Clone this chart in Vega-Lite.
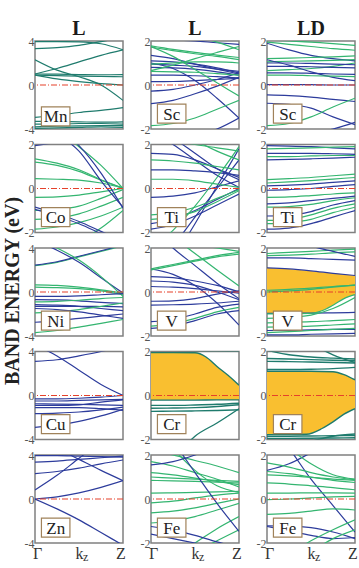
{
"$schema":"https://vega.github.io/schema/vega-lite/v6.json",
"padding":{"left":3,"top":18,"right":0,"bottom":0},
"bounds":"flush",
"columns":3,
"spacing":{"row":15.5,"column":28},
"title":{"text":"BAND ENERGY (eV)","orient":"left","anchor":"middle","fontSize":20,"fontWeight":"bold","font":"Liberation Serif","color":"#222","offset":0},
"config":{"view":{"stroke":"#808080","strokeWidth":1.5},"axis":{"domain":false,"ticks":false,"grid":false,"labelFont":"Liberation Serif","labelFontSize":12,"labelColor":"#555","labelPadding":1}},
"datasets":{
"Mn":[
{"b":1,"c":"t","k":0,"e":3.95},{"b":1,"c":"t","k":1,"e":3.95},{"b":1,"c":"t","k":2,"e":3.92},{"b":1,"c":"t","k":3,"e":3.75},{"b":1,"c":"t","k":4,"e":3.2},
{"b":2,"c":"t","k":0,"e":3.3},{"b":2,"c":"t","k":1,"e":3.4},{"b":2,"c":"t","k":2,"e":3.6},{"b":2,"c":"t","k":3,"e":3.95},{"b":2,"c":"t","k":4,"e":4.3},
{"b":3,"c":"t","k":0,"e":2.3},{"b":3,"c":"t","k":1,"e":1.35},{"b":3,"c":"t","k":2,"e":0.75},{"b":3,"c":"t","k":3,"e":0},{"b":3,"c":"t","k":4,"e":-1.4},
{"b":4,"c":"t","k":0,"e":1},{"b":4,"c":"t","k":1,"e":1.5},{"b":4,"c":"t","k":2,"e":2.1},{"b":4,"c":"t","k":3,"e":2.7},{"b":4,"c":"t","k":4,"e":3.2},
{"b":5,"c":"t","k":0,"e":1},{"b":5,"c":"t","k":1,"e":0.98},{"b":5,"c":"t","k":2,"e":0.95},{"b":5,"c":"t","k":3,"e":0.93},{"b":5,"c":"t","k":4,"e":0.95},
{"b":6,"c":"t","k":0,"e":0.9},{"b":6,"c":"t","k":1,"e":0.85},{"b":6,"c":"t","k":2,"e":0.8},{"b":6,"c":"t","k":3,"e":0.78},{"b":6,"c":"t","k":4,"e":0.75},
{"b":7,"c":"t","k":0,"e":0.9},{"b":7,"c":"t","k":1,"e":0.55},{"b":7,"c":"t","k":2,"e":0.3},{"b":7,"c":"t","k":3,"e":0.12},{"b":7,"c":"t","k":4,"e":0},
{"b":8,"c":"t","k":0,"e":-2.95},{"b":8,"c":"t","k":1,"e":-2.75},{"b":8,"c":"t","k":2,"e":-2.5},{"b":8,"c":"t","k":3,"e":-2.3},{"b":8,"c":"t","k":4,"e":-2.05},
{"b":9,"c":"t","k":0,"e":-3.3},{"b":9,"c":"t","k":1,"e":-3.32},{"b":9,"c":"t","k":2,"e":-3.35},{"b":9,"c":"t","k":3,"e":-3.38},{"b":9,"c":"t","k":4,"e":-3.35},
{"b":10,"c":"t","k":0,"e":-3.55},{"b":10,"c":"t","k":1,"e":-3.55},{"b":10,"c":"t","k":2,"e":-3.5},{"b":10,"c":"t","k":3,"e":-3.5},{"b":10,"c":"t","k":4,"e":-3.55},
{"b":11,"c":"t","k":0,"e":-3.8},{"b":11,"c":"t","k":1,"e":-3.75},{"b":11,"c":"t","k":2,"e":-3.72},{"b":11,"c":"t","k":3,"e":-3.7},{"b":11,"c":"t","k":4,"e":-3.7},
{"b":12,"c":"t","k":0,"e":-3.95},{"b":12,"c":"t","k":1,"e":-3.9},{"b":12,"c":"t","k":2,"e":-3.85},{"b":12,"c":"t","k":3,"e":-3.8},{"b":12,"c":"t","k":4,"e":-3.85}
],
"ScL":[
{"b":1,"c":"b","k":0,"e":1.35},{"b":1,"c":"b","k":1,"e":1.2},{"b":1,"c":"b","k":2,"e":0.95},{"b":1,"c":"b","k":3,"e":0.72},{"b":1,"c":"b","k":4,"e":0.5},
{"b":2,"c":"b","k":0,"e":1.1},{"b":2,"c":"b","k":1,"e":1.05},{"b":2,"c":"b","k":2,"e":0.95},{"b":2,"c":"b","k":3,"e":0.78},{"b":2,"c":"b","k":4,"e":0.55},
{"b":3,"c":"b","k":0,"e":0.95},{"b":3,"c":"b","k":1,"e":0.9},{"b":3,"c":"b","k":2,"e":0.85},{"b":3,"c":"b","k":3,"e":0.72},{"b":3,"c":"b","k":4,"e":0.62},
{"b":4,"c":"b","k":0,"e":0.8},{"b":4,"c":"b","k":1,"e":0.78},{"b":4,"c":"b","k":2,"e":0.72},{"b":4,"c":"b","k":3,"e":0.6},{"b":4,"c":"b","k":4,"e":0.45},
{"b":5,"c":"b","k":0,"e":0.45},{"b":5,"c":"b","k":1,"e":0.45},{"b":5,"c":"b","k":2,"e":0.42},{"b":5,"c":"b","k":3,"e":0.38},{"b":5,"c":"b","k":4,"e":0.32},
{"b":6,"c":"b","k":0,"e":0.15},{"b":6,"c":"b","k":1,"e":0.16},{"b":6,"c":"b","k":2,"e":0.2},{"b":6,"c":"b","k":3,"e":0.25},{"b":6,"c":"b","k":4,"e":0.3},
{"b":7,"c":"b","k":0,"e":-0.28},{"b":7,"c":"b","k":1,"e":-0.2},{"b":7,"c":"b","k":2,"e":0},{"b":7,"c":"b","k":3,"e":0.25},{"b":7,"c":"b","k":4,"e":0.55},
{"b":8,"c":"b","k":0,"e":-0.85},{"b":8,"c":"b","k":1,"e":-0.7},{"b":8,"c":"b","k":2,"e":-0.4},{"b":8,"c":"b","k":3,"e":-0.05},{"b":8,"c":"b","k":4,"e":0.35},
{"b":9,"c":"b","k":0,"e":1},{"b":9,"c":"b","k":1,"e":0.75},{"b":9,"c":"b","k":2,"e":0.2},{"b":9,"c":"b","k":3,"e":-0.6},{"b":9,"c":"b","k":4,"e":-1.5},
{"b":10,"c":"b","k":0,"e":-2.6},{"b":10,"c":"b","k":1,"e":-2.45},{"b":10,"c":"b","k":2,"e":-2.3},{"b":10,"c":"b","k":3,"e":-2},{"b":10,"c":"b","k":4,"e":-1.5},
{"b":11,"c":"b","k":0,"e":2.1},{"b":11,"c":"b","k":1,"e":2.05},{"b":11,"c":"b","k":2,"e":2},{"b":11,"c":"b","k":3,"e":1.92},{"b":11,"c":"b","k":4,"e":1.85},
{"b":12,"c":"g","k":0,"e":1.78},{"b":12,"c":"g","k":1,"e":1.62},{"b":12,"c":"g","k":2,"e":1.48},{"b":12,"c":"g","k":3,"e":1.36},{"b":12,"c":"g","k":4,"e":1.25},
{"b":13,"c":"g","k":0,"e":1.72},{"b":13,"c":"g","k":1,"e":1.56},{"b":13,"c":"g","k":2,"e":1.42},{"b":13,"c":"g","k":3,"e":1.3},{"b":13,"c":"g","k":4,"e":1.15},
{"b":14,"c":"g","k":0,"e":2.6},{"b":14,"c":"g","k":1,"e":2.4},{"b":14,"c":"g","k":2,"e":2.2},{"b":14,"c":"g","k":3,"e":1.95},{"b":14,"c":"g","k":4,"e":1.6},
{"b":15,"c":"g","k":0,"e":0.65},{"b":15,"c":"g","k":1,"e":0.9},{"b":15,"c":"g","k":2,"e":1.2},{"b":15,"c":"g","k":3,"e":1.48},{"b":15,"c":"g","k":4,"e":1.75},
{"b":16,"c":"g","k":0,"e":0.95},{"b":16,"c":"g","k":1,"e":1},{"b":16,"c":"g","k":2,"e":1.05},{"b":16,"c":"g","k":3,"e":1.05},{"b":16,"c":"g","k":4,"e":1},
{"b":17,"c":"g","k":0,"e":1.75},{"b":17,"c":"g","k":1,"e":1.3},{"b":17,"c":"g","k":2,"e":0.7},{"b":17,"c":"g","k":3,"e":0.1},{"b":17,"c":"g","k":4,"e":-0.5},
{"b":18,"c":"g","k":0,"e":-1.85},{"b":18,"c":"g","k":1,"e":-1.75},{"b":18,"c":"g","k":2,"e":-1.5},{"b":18,"c":"g","k":3,"e":-1.1},{"b":18,"c":"g","k":4,"e":-0.7},
{"b":19,"c":"g","k":0,"e":0.62},{"b":19,"c":"g","k":1,"e":0.6},{"b":19,"c":"g","k":2,"e":0.58},{"b":19,"c":"g","k":3,"e":0.52},{"b":19,"c":"g","k":4,"e":0.45}
],
"ScD":[
{"b":1,"c":"g","k":0,"e":1.95},{"b":1,"c":"g","k":1,"e":1.85},{"b":1,"c":"g","k":2,"e":1.75},{"b":1,"c":"g","k":3,"e":1.65},{"b":1,"c":"g","k":4,"e":1.58},
{"b":2,"c":"g","k":0,"e":2.05},{"b":2,"c":"g","k":1,"e":2},{"b":2,"c":"g","k":2,"e":1.95},{"b":2,"c":"g","k":3,"e":1.88},{"b":2,"c":"g","k":4,"e":1.8},
{"b":3,"c":"b","k":0,"e":1.9},{"b":3,"c":"b","k":1,"e":1.6},{"b":3,"c":"b","k":2,"e":1.35},{"b":3,"c":"b","k":3,"e":1.2},{"b":3,"c":"b","k":4,"e":1.1},
{"b":4,"c":"g","k":0,"e":1.2},{"b":4,"c":"g","k":1,"e":1.22},{"b":4,"c":"g","k":2,"e":1.25},{"b":4,"c":"g","k":3,"e":1.28},{"b":4,"c":"g","k":4,"e":1.32},
{"b":5,"c":"g","k":0,"e":1.05},{"b":5,"c":"g","k":1,"e":1.08},{"b":5,"c":"g","k":2,"e":1.1},{"b":5,"c":"g","k":3,"e":1.12},{"b":5,"c":"g","k":4,"e":1.15},
{"b":6,"c":"g","k":0,"e":0.65},{"b":6,"c":"g","k":1,"e":0.7},{"b":6,"c":"g","k":2,"e":0.75},{"b":6,"c":"g","k":3,"e":0.85},{"b":6,"c":"g","k":4,"e":1},
{"b":7,"c":"b","k":0,"e":1},{"b":7,"c":"b","k":1,"e":1},{"b":7,"c":"b","k":2,"e":0.98},{"b":7,"c":"b","k":3,"e":0.95},{"b":7,"c":"b","k":4,"e":0.92},
{"b":8,"c":"b","k":0,"e":0.85},{"b":8,"c":"b","k":1,"e":0.85},{"b":8,"c":"b","k":2,"e":0.83},{"b":8,"c":"b","k":3,"e":0.8},{"b":8,"c":"b","k":4,"e":0.78},
{"b":9,"c":"b","k":0,"e":1.15},{"b":9,"c":"b","k":1,"e":0.9},{"b":9,"c":"b","k":2,"e":0.6},{"b":9,"c":"b","k":3,"e":0.35},{"b":9,"c":"b","k":4,"e":0.2},
{"b":10,"c":"b","k":0,"e":0.55},{"b":10,"c":"b","k":1,"e":0.55},{"b":10,"c":"b","k":2,"e":0.53},{"b":10,"c":"b","k":3,"e":0.5},{"b":10,"c":"b","k":4,"e":0.48},
{"b":11,"c":"g","k":0,"e":0.45},{"b":11,"c":"g","k":1,"e":0.45},{"b":11,"c":"g","k":2,"e":0.42},{"b":11,"c":"g","k":3,"e":0.4},{"b":11,"c":"g","k":4,"e":0.38},
{"b":12,"c":"b","k":0,"e":0.02},{"b":12,"c":"b","k":1,"e":0.02},{"b":12,"c":"b","k":2,"e":0.02},{"b":12,"c":"b","k":3,"e":0},{"b":12,"c":"b","k":4,"e":0},
{"b":13,"c":"b","k":0,"e":-0.45},{"b":13,"c":"b","k":1,"e":-0.48},{"b":13,"c":"b","k":2,"e":-0.55},{"b":13,"c":"b","k":3,"e":-0.65},{"b":13,"c":"b","k":4,"e":-0.75},
{"b":14,"c":"b","k":0,"e":-0.83},{"b":14,"c":"b","k":1,"e":-0.88},{"b":14,"c":"b","k":2,"e":-1.05},{"b":14,"c":"b","k":3,"e":-1.45},{"b":14,"c":"b","k":4,"e":-1.8},
{"b":15,"c":"g","k":0,"e":-1.85},{"b":15,"c":"g","k":1,"e":-1.75},{"b":15,"c":"g","k":2,"e":-1.45},{"b":15,"c":"g","k":3,"e":-1},{"b":15,"c":"g","k":4,"e":-0.6},
{"b":16,"c":"b","k":0,"e":-2.4},{"b":16,"c":"b","k":1,"e":-2.3},{"b":16,"c":"b","k":2,"e":-2.2},{"b":16,"c":"b","k":3,"e":-2},{"b":16,"c":"b","k":4,"e":-1.7}
],
"Co":[
{"b":1,"c":"g","k":0,"e":1.35},{"b":1,"c":"g","k":1,"e":1.15},{"b":1,"c":"g","k":2,"e":0.85},{"b":1,"c":"g","k":3,"e":0.4},{"b":1,"c":"g","k":4,"e":0},
{"b":2,"c":"g","k":0,"e":1.2},{"b":2,"c":"g","k":1,"e":1.05},{"b":2,"c":"g","k":2,"e":0.78},{"b":2,"c":"g","k":3,"e":0.38},{"b":2,"c":"g","k":4,"e":0.02},
{"b":3,"c":"g","k":0,"e":0.45},{"b":3,"c":"g","k":1,"e":0.42},{"b":3,"c":"g","k":2,"e":0.38},{"b":3,"c":"g","k":3,"e":0.25},{"b":3,"c":"g","k":4,"e":0.02},
{"b":4,"c":"g","k":0,"e":-0.4},{"b":4,"c":"g","k":1,"e":-0.38},{"b":4,"c":"g","k":2,"e":-0.3},{"b":4,"c":"g","k":3,"e":-0.15},{"b":4,"c":"g","k":4,"e":0},
{"b":5,"c":"g","k":0,"e":-1},{"b":5,"c":"g","k":1,"e":-0.95},{"b":5,"c":"g","k":2,"e":-0.8},{"b":5,"c":"g","k":3,"e":-0.45},{"b":5,"c":"g","k":4,"e":-0.05},
{"b":6,"c":"g","k":0,"e":-1.4},{"b":6,"c":"g","k":1,"e":-1.35},{"b":6,"c":"g","k":2,"e":-1.15},{"b":6,"c":"g","k":3,"e":-0.8},{"b":6,"c":"g","k":4,"e":-0.4},
{"b":7,"c":"g","k":0,"e":-1.85},{"b":7,"c":"g","k":1,"e":-1.75},{"b":7,"c":"g","k":2,"e":-1.55},{"b":7,"c":"g","k":3,"e":-1.25},{"b":7,"c":"g","k":4,"e":-0.85},
{"b":8,"c":"g","k":0,"e":3.6},{"b":8,"c":"g","k":1,"e":2.7},{"b":8,"c":"g","k":2,"e":1.9},{"b":8,"c":"g","k":3,"e":1.05},{"b":8,"c":"g","k":4,"e":0},
{"b":9,"c":"g","k":0,"e":-3.2},{"b":9,"c":"g","k":1,"e":-2.9},{"b":9,"c":"g","k":2,"e":-2.4},{"b":9,"c":"g","k":3,"e":-1.8},{"b":9,"c":"g","k":4,"e":-1},
{"b":10,"c":"b","k":0,"e":1.95},{"b":10,"c":"b","k":1,"e":2.1},{"b":10,"c":"b","k":2,"e":2.3},{"b":10,"c":"b","k":3,"e":2.5},{"b":10,"c":"b","k":4,"e":2.7},
{"b":11,"c":"b","k":0,"e":3.6},{"b":11,"c":"b","k":1,"e":2.8},{"b":11,"c":"b","k":2,"e":1.95},{"b":11,"c":"b","k":3,"e":0.7},{"b":11,"c":"b","k":4,"e":-0.9},
{"b":12,"c":"b","k":0,"e":3.3},{"b":12,"c":"b","k":1,"e":2.5},{"b":12,"c":"b","k":2,"e":1.7},{"b":12,"c":"b","k":3,"e":0.35},{"b":12,"c":"b","k":4,"e":-0.85},
{"b":13,"c":"b","k":0,"e":-0.85},{"b":13,"c":"b","k":1,"e":-1.15},{"b":13,"c":"b","k":2,"e":-1.5},{"b":13,"c":"b","k":3,"e":-1.95},{"b":13,"c":"b","k":4,"e":-2.4},
{"b":14,"c":"b","k":0,"e":-0.95},{"b":14,"c":"b","k":1,"e":-1.25},{"b":14,"c":"b","k":2,"e":-1.6},{"b":14,"c":"b","k":3,"e":-2.05},{"b":14,"c":"b","k":4,"e":-2.5}
],
"TiL":[
{"b":1,"c":"b","k":0,"e":1.6},{"b":1,"c":"b","k":1,"e":1.55},{"b":1,"c":"b","k":2,"e":1.3},{"b":1,"c":"b","k":3,"e":0.9},{"b":1,"c":"b","k":4,"e":0.5},
{"b":2,"c":"b","k":0,"e":0.85},{"b":2,"c":"b","k":1,"e":0.85},{"b":2,"c":"b","k":2,"e":0.8},{"b":2,"c":"b","k":3,"e":0.72},{"b":2,"c":"b","k":4,"e":0.6},
{"b":3,"c":"b","k":0,"e":-0.4},{"b":3,"c":"b","k":1,"e":-0.35},{"b":3,"c":"b","k":2,"e":-0.2},{"b":3,"c":"b","k":3,"e":0.08},{"b":3,"c":"b","k":4,"e":0.35},
{"b":4,"c":"b","k":0,"e":-1.6},{"b":4,"c":"b","k":1,"e":-1.4},{"b":4,"c":"b","k":2,"e":-1},{"b":4,"c":"b","k":3,"e":-0.5},{"b":4,"c":"b","k":4,"e":0},
{"b":5,"c":"b","k":0,"e":-1.85},{"b":5,"c":"b","k":1,"e":-1.65},{"b":5,"c":"b","k":2,"e":-1.25},{"b":5,"c":"b","k":3,"e":-0.75},{"b":5,"c":"b","k":4,"e":-0.25},
{"b":6,"c":"b","k":0,"e":2.6},{"b":6,"c":"b","k":1,"e":2},{"b":6,"c":"b","k":2,"e":1.3},{"b":6,"c":"b","k":3,"e":0.6},{"b":6,"c":"b","k":4,"e":0.05},
{"b":7,"c":"b","k":0,"e":2.9},{"b":7,"c":"b","k":1,"e":2.3},{"b":7,"c":"b","k":2,"e":1.6},{"b":7,"c":"b","k":3,"e":0.9},{"b":7,"c":"b","k":4,"e":0.4},
{"b":8,"c":"b","k":0,"e":-4.5},{"b":8,"c":"b","k":1,"e":-3.2},{"b":8,"c":"b","k":2,"e":-1.6},{"b":8,"c":"b","k":3,"e":0.1},{"b":8,"c":"b","k":4,"e":1.8},
{"b":9,"c":"b","k":0,"e":-3.6},{"b":9,"c":"b","k":1,"e":-2.6},{"b":9,"c":"b","k":2,"e":-1.3},{"b":9,"c":"b","k":3,"e":0},{"b":9,"c":"b","k":4,"e":1.3},
{"b":10,"c":"g","k":0,"e":1.3},{"b":10,"c":"g","k":1,"e":1.25},{"b":10,"c":"g","k":2,"e":1.15},{"b":10,"c":"g","k":3,"e":1},{"b":10,"c":"g","k":4,"e":0.85},
{"b":11,"c":"g","k":0,"e":0.42},{"b":11,"c":"g","k":1,"e":0.42},{"b":11,"c":"g","k":2,"e":0.35},{"b":11,"c":"g","k":3,"e":0.2},{"b":11,"c":"g","k":4,"e":0.05},
{"b":12,"c":"g","k":0,"e":-1.2},{"b":12,"c":"g","k":1,"e":-1.1},{"b":12,"c":"g","k":2,"e":-0.85},{"b":12,"c":"g","k":3,"e":-0.45},{"b":12,"c":"g","k":4,"e":-0.05},
{"b":13,"c":"g","k":0,"e":-1.4},{"b":13,"c":"g","k":1,"e":-1.3},{"b":13,"c":"g","k":2,"e":-1.05},{"b":13,"c":"g","k":3,"e":-0.6},{"b":13,"c":"g","k":4,"e":-0.1},
{"b":14,"c":"g","k":0,"e":3.5},{"b":14,"c":"g","k":1,"e":2.9},{"b":14,"c":"g","k":2,"e":2.2},{"b":14,"c":"g","k":3,"e":1.7},{"b":14,"c":"g","k":4,"e":1.3},
{"b":15,"c":"g","k":0,"e":-2.8},{"b":15,"c":"g","k":1,"e":-1.9},{"b":15,"c":"g","k":2,"e":-0.8},{"b":15,"c":"g","k":3,"e":0.5},{"b":15,"c":"g","k":4,"e":1.9},
{"b":16,"c":"g","k":0,"e":2.3},{"b":16,"c":"g","k":1,"e":2.2},{"b":16,"c":"g","k":2,"e":2},{"b":16,"c":"g","k":3,"e":1.85},{"b":16,"c":"g","k":4,"e":1.7}
],
"TiD":[
{"b":1,"c":"b","k":0,"e":1.95},{"b":1,"c":"b","k":1,"e":1.93},{"b":1,"c":"b","k":2,"e":1.9},{"b":1,"c":"b","k":3,"e":1.85},{"b":1,"c":"b","k":4,"e":1.8},
{"b":2,"c":"g","k":0,"e":1.8},{"b":2,"c":"g","k":1,"e":1.82},{"b":2,"c":"g","k":2,"e":1.85},{"b":2,"c":"g","k":3,"e":1.88},{"b":2,"c":"g","k":4,"e":1.9},
{"b":3,"c":"b","k":0,"e":1.6},{"b":3,"c":"b","k":1,"e":1.6},{"b":3,"c":"b","k":2,"e":1.6},{"b":3,"c":"b","k":3,"e":1.58},{"b":3,"c":"b","k":4,"e":1.55},
{"b":4,"c":"g","k":0,"e":1.45},{"b":4,"c":"g","k":1,"e":1.45},{"b":4,"c":"g","k":2,"e":1.48},{"b":4,"c":"g","k":3,"e":1.5},{"b":4,"c":"g","k":4,"e":1.5},
{"b":5,"c":"b","k":0,"e":1.3},{"b":5,"c":"b","k":1,"e":1.32},{"b":5,"c":"b","k":2,"e":1.35},{"b":5,"c":"b","k":3,"e":1.38},{"b":5,"c":"b","k":4,"e":1.42},
{"b":6,"c":"g","k":0,"e":0.4},{"b":6,"c":"g","k":1,"e":0.45},{"b":6,"c":"g","k":2,"e":0.5},{"b":6,"c":"g","k":3,"e":0.58},{"b":6,"c":"g","k":4,"e":0.65},
{"b":7,"c":"g","k":0,"e":0.25},{"b":7,"c":"g","k":1,"e":0.3},{"b":7,"c":"g","k":2,"e":0.36},{"b":7,"c":"g","k":3,"e":0.43},{"b":7,"c":"g","k":4,"e":0.5},
{"b":8,"c":"b","k":0,"e":0.12},{"b":8,"c":"b","k":1,"e":0.15},{"b":8,"c":"b","k":2,"e":0.2},{"b":8,"c":"b","k":3,"e":0.28},{"b":8,"c":"b","k":4,"e":0.35},
{"b":9,"c":"b","k":0,"e":-0.08},{"b":9,"c":"b","k":1,"e":-0.05},{"b":9,"c":"b","k":2,"e":0},{"b":9,"c":"b","k":3,"e":0.1},{"b":9,"c":"b","k":4,"e":0.18},
{"b":10,"c":"g","k":0,"e":-0.4},{"b":10,"c":"g","k":1,"e":-0.38},{"b":10,"c":"g","k":2,"e":-0.32},{"b":10,"c":"g","k":3,"e":-0.25},{"b":10,"c":"g","k":4,"e":-0.2},
{"b":11,"c":"b","k":0,"e":-0.7},{"b":11,"c":"b","k":1,"e":-0.65},{"b":11,"c":"b","k":2,"e":-0.55},{"b":11,"c":"b","k":3,"e":-0.45},{"b":11,"c":"b","k":4,"e":-0.35},
{"b":12,"c":"g","k":0,"e":-0.85},{"b":12,"c":"g","k":1,"e":-0.82},{"b":12,"c":"g","k":2,"e":-0.72},{"b":12,"c":"g","k":3,"e":-0.55},{"b":12,"c":"g","k":4,"e":-0.42},
{"b":13,"c":"b","k":0,"e":-1.25},{"b":13,"c":"b","k":1,"e":-1.22},{"b":13,"c":"b","k":2,"e":-1.05},{"b":13,"c":"b","k":3,"e":-0.75},{"b":13,"c":"b","k":4,"e":-0.55},
{"b":14,"c":"g","k":0,"e":-1.45},{"b":14,"c":"g","k":1,"e":-1.4},{"b":14,"c":"g","k":2,"e":-1.2},{"b":14,"c":"g","k":3,"e":-0.9},{"b":14,"c":"g","k":4,"e":-0.7},
{"b":15,"c":"g","k":0,"e":-1.6},{"b":15,"c":"g","k":1,"e":-1.55},{"b":15,"c":"g","k":2,"e":-1.4},{"b":15,"c":"g","k":3,"e":-1.1},{"b":15,"c":"g","k":4,"e":-0.85},
{"b":16,"c":"b","k":0,"e":-1.85},{"b":16,"c":"b","k":1,"e":-1.8},{"b":16,"c":"b","k":2,"e":-1.6},{"b":16,"c":"b","k":3,"e":-1.3},{"b":16,"c":"b","k":4,"e":-1}
],
"Ni":[
{"b":1,"c":"g","k":0,"e":2.4},{"b":1,"c":"g","k":1,"e":2.7},{"b":1,"c":"g","k":2,"e":3.2},{"b":1,"c":"g","k":3,"e":3.7},{"b":1,"c":"g","k":4,"e":4.2},
{"b":2,"c":"b","k":0,"e":2.45},{"b":2,"c":"b","k":1,"e":2.75},{"b":2,"c":"b","k":2,"e":3.25},{"b":2,"c":"b","k":3,"e":3.75},{"b":2,"c":"b","k":4,"e":4.25},
{"b":3,"c":"b","k":0,"e":4.7},{"b":3,"c":"b","k":1,"e":3.8},{"b":3,"c":"b","k":2,"e":2.7},{"b":3,"c":"b","k":3,"e":1.3},{"b":3,"c":"b","k":4,"e":-0.1},
{"b":4,"c":"g","k":0,"e":4.9},{"b":4,"c":"g","k":1,"e":4},{"b":4,"c":"g","k":2,"e":2.9},{"b":4,"c":"g","k":3,"e":1.4},{"b":4,"c":"g","k":4,"e":-0.4},
{"b":5,"c":"g","k":0,"e":0.65},{"b":5,"c":"g","k":1,"e":0.6},{"b":5,"c":"g","k":2,"e":0.45},{"b":5,"c":"g","k":3,"e":0.2},{"b":5,"c":"g","k":4,"e":-0.1},
{"b":6,"c":"g","k":0,"e":0.45},{"b":6,"c":"g","k":1,"e":0.4},{"b":6,"c":"g","k":2,"e":0.3},{"b":6,"c":"g","k":3,"e":0.1},{"b":6,"c":"g","k":4,"e":-0.25},
{"b":7,"c":"b","k":0,"e":-0.4},{"b":7,"c":"b","k":1,"e":-0.4},{"b":7,"c":"b","k":2,"e":-0.35},{"b":7,"c":"b","k":3,"e":-0.25},{"b":7,"c":"b","k":4,"e":-0.15},
{"b":8,"c":"b","k":0,"e":-0.7},{"b":8,"c":"b","k":1,"e":-0.72},{"b":8,"c":"b","k":2,"e":-0.8},{"b":8,"c":"b","k":3,"e":-0.95},{"b":8,"c":"b","k":4,"e":-1.05},
{"b":9,"c":"g","k":0,"e":-0.9},{"b":9,"c":"g","k":1,"e":-0.85},{"b":9,"c":"g","k":2,"e":-0.75},{"b":9,"c":"g","k":3,"e":-0.6},{"b":9,"c":"g","k":4,"e":-0.5},
{"b":10,"c":"b","k":0,"e":-1.3},{"b":10,"c":"b","k":1,"e":-1.3},{"b":10,"c":"b","k":2,"e":-1.3},{"b":10,"c":"b","k":3,"e":-1.32},{"b":10,"c":"b","k":4,"e":-1.35},
{"b":11,"c":"b","k":0,"e":-1.15},{"b":11,"c":"b","k":1,"e":-1.2},{"b":11,"c":"b","k":2,"e":-1.3},{"b":11,"c":"b","k":3,"e":-1.5},{"b":11,"c":"b","k":4,"e":-1.7},
{"b":12,"c":"g","k":0,"e":-1.9},{"b":12,"c":"g","k":1,"e":-1.8},{"b":12,"c":"g","k":2,"e":-1.6},{"b":12,"c":"g","k":3,"e":-1.3},{"b":12,"c":"g","k":4,"e":-1},
{"b":13,"c":"b","k":0,"e":-2.75},{"b":13,"c":"b","k":1,"e":-2.6},{"b":13,"c":"b","k":2,"e":-2.4},{"b":13,"c":"b","k":3,"e":-2.2},{"b":13,"c":"b","k":4,"e":-2},
{"b":14,"c":"g","k":0,"e":-3.7},{"b":14,"c":"g","k":1,"e":-3.5},{"b":14,"c":"g","k":2,"e":-3.2},{"b":14,"c":"g","k":3,"e":-2.85},{"b":14,"c":"g","k":4,"e":-2.5},
{"b":15,"c":"b","k":0,"e":-1.5},{"b":15,"c":"b","k":1,"e":-1.6},{"b":15,"c":"b","k":2,"e":-1.8},{"b":15,"c":"b","k":3,"e":-2.1},{"b":15,"c":"b","k":4,"e":-2.4}
],
"VL":[
{"b":1,"c":"b","k":0,"e":1.05},{"b":1,"c":"b","k":1,"e":0.8},{"b":1,"c":"b","k":2,"e":0.3},{"b":1,"c":"b","k":3,"e":-0.5},{"b":1,"c":"b","k":4,"e":-1.5},
{"b":2,"c":"b","k":0,"e":3},{"b":2,"c":"b","k":1,"e":2},{"b":2,"c":"b","k":2,"e":1.2},{"b":2,"c":"b","k":3,"e":0.4},{"b":2,"c":"b","k":4,"e":-0.3},
{"b":3,"c":"b","k":0,"e":0.7},{"b":3,"c":"b","k":1,"e":0.65},{"b":3,"c":"b","k":2,"e":0.5},{"b":3,"c":"b","k":3,"e":0.3},{"b":3,"c":"b","k":4,"e":0},
{"b":4,"c":"b","k":0,"e":0.5},{"b":4,"c":"b","k":1,"e":0.45},{"b":4,"c":"b","k":2,"e":0.3},{"b":4,"c":"b","k":3,"e":0},{"b":4,"c":"b","k":4,"e":-0.35},
{"b":5,"c":"b","k":0,"e":0.25},{"b":5,"c":"b","k":1,"e":0.22},{"b":5,"c":"b","k":2,"e":0.15},{"b":5,"c":"b","k":3,"e":0.05},{"b":5,"c":"b","k":4,"e":-0.05},
{"b":6,"c":"b","k":0,"e":-0.42},{"b":6,"c":"b","k":1,"e":-0.4},{"b":6,"c":"b","k":2,"e":-0.3},{"b":6,"c":"b","k":3,"e":-0.1},{"b":6,"c":"b","k":4,"e":0.05},
{"b":7,"c":"b","k":0,"e":-0.6},{"b":7,"c":"b","k":1,"e":-0.58},{"b":7,"c":"b","k":2,"e":-0.55},{"b":7,"c":"b","k":3,"e":-0.5},{"b":7,"c":"b","k":4,"e":-0.42},
{"b":8,"c":"b","k":0,"e":-1.35},{"b":8,"c":"b","k":1,"e":-1.25},{"b":8,"c":"b","k":2,"e":-1},{"b":8,"c":"b","k":3,"e":-0.7},{"b":8,"c":"b","k":4,"e":-0.55},
{"b":9,"c":"b","k":0,"e":-1.65},{"b":9,"c":"b","k":1,"e":-1.55},{"b":9,"c":"b","k":2,"e":-1.3},{"b":9,"c":"b","k":3,"e":-1},{"b":9,"c":"b","k":4,"e":-0.85},
{"b":10,"c":"g","k":0,"e":1.05},{"b":10,"c":"g","k":1,"e":1.25},{"b":10,"c":"g","k":2,"e":1.45},{"b":10,"c":"g","k":3,"e":1.65},{"b":10,"c":"g","k":4,"e":1.8},
{"b":11,"c":"g","k":0,"e":1},{"b":11,"c":"g","k":1,"e":1.2},{"b":11,"c":"g","k":2,"e":1.4},{"b":11,"c":"g","k":3,"e":1.6},{"b":11,"c":"g","k":4,"e":1.72},
{"b":12,"c":"g","k":0,"e":3.2},{"b":12,"c":"g","k":1,"e":2.5},{"b":12,"c":"g","k":2,"e":1.75},{"b":12,"c":"g","k":3,"e":1},{"b":12,"c":"g","k":4,"e":0.27},
{"b":13,"c":"g","k":0,"e":-1.55},{"b":13,"c":"g","k":1,"e":-1.45},{"b":13,"c":"g","k":2,"e":-1.2},{"b":13,"c":"g","k":3,"e":-0.9},{"b":13,"c":"g","k":4,"e":-0.7},
{"b":14,"c":"g","k":0,"e":2.4},{"b":14,"c":"g","k":1,"e":2.3},{"b":14,"c":"g","k":2,"e":2.15},{"b":14,"c":"g","k":3,"e":2},{"b":14,"c":"g","k":4,"e":1.85}
],
"VD":[
{"b":1,"c":"b","k":0,"e":1.1},{"b":1,"c":"b","k":1,"e":1.05},{"b":1,"c":"b","k":2,"e":0.96},{"b":1,"c":"b","k":3,"e":0.85},{"b":1,"c":"b","k":4,"e":0.75},
{"b":2,"c":"b","k":0,"e":-0.97},{"b":2,"c":"b","k":1,"e":-0.97},{"b":2,"c":"b","k":2,"e":-0.96},{"b":2,"c":"b","k":3,"e":-0.95},{"b":2,"c":"b","k":4,"e":-0.93},
{"b":3,"c":"g","k":0,"e":-0.99},{"b":3,"c":"g","k":1,"e":-0.99},{"b":3,"c":"g","k":2,"e":-0.97},{"b":3,"c":"g","k":2.5,"e":-0.85},{"b":3,"c":"g","k":3,"e":-0.6},{"b":3,"c":"g","k":3.5,"e":-0.3},{"b":3,"c":"g","k":4,"e":-0.12},
{"b":4,"c":"g","k":0,"e":-1.2},{"b":4,"c":"g","k":1,"e":-1.15},{"b":4,"c":"g","k":2,"e":-1.05},{"b":4,"c":"g","k":3,"e":-0.75},{"b":4,"c":"g","k":4,"e":-0.25},
{"b":5,"c":"g","k":0,"e":0},{"b":5,"c":"g","k":1,"e":0.05},{"b":5,"c":"g","k":2,"e":0.12},{"b":5,"c":"g","k":3,"e":0.22},{"b":5,"c":"g","k":4,"e":0.32},
{"b":6,"c":"g","k":0,"e":0.08},{"b":6,"c":"g","k":1,"e":0.12},{"b":6,"c":"g","k":2,"e":0.18},{"b":6,"c":"g","k":3,"e":0.25},{"b":6,"c":"g","k":4,"e":0.3},
{"b":7,"c":"g","k":0,"e":1.75},{"b":7,"c":"g","k":1,"e":1.8},{"b":7,"c":"g","k":2,"e":1.85},{"b":7,"c":"g","k":3,"e":1.9},{"b":7,"c":"g","k":4,"e":1.95},
{"b":8,"c":"g","k":0,"e":1.65},{"b":8,"c":"g","k":1,"e":1.68},{"b":8,"c":"g","k":2,"e":1.72},{"b":8,"c":"g","k":3,"e":1.78},{"b":8,"c":"g","k":4,"e":1.82},
{"b":9,"c":"b","k":0,"e":1.55},{"b":9,"c":"b","k":1,"e":1.55},{"b":9,"c":"b","k":2,"e":1.52},{"b":9,"c":"b","k":3,"e":1.48},{"b":9,"c":"b","k":4,"e":1.45},
{"b":10,"c":"b","k":0,"e":3},{"b":10,"c":"b","k":1,"e":2.6},{"b":10,"c":"b","k":2,"e":2.1},{"b":10,"c":"b","k":3,"e":1.85},{"b":10,"c":"b","k":4,"e":1.62},
{"b":11,"c":"g","k":0,"e":-1.4},{"b":11,"c":"g","k":1,"e":-1.38},{"b":11,"c":"g","k":2,"e":-1.35},{"b":11,"c":"g","k":3,"e":-1.3},{"b":11,"c":"g","k":4,"e":-1.25},
{"b":12,"c":"g","k":0,"e":-1.6},{"b":12,"c":"g","k":1,"e":-1.58},{"b":12,"c":"g","k":2,"e":-1.55},{"b":12,"c":"g","k":3,"e":-1.5},{"b":12,"c":"g","k":4,"e":-1.45},
{"b":13,"c":"b","k":0,"e":-1.75},{"b":13,"c":"b","k":1,"e":-1.74},{"b":13,"c":"b","k":2,"e":-1.72},{"b":13,"c":"b","k":3,"e":-1.7},{"b":13,"c":"b","k":4,"e":-1.7},
{"b":14,"c":"g","k":0,"e":-1.85},{"b":14,"c":"g","k":1,"e":-1.8},{"b":14,"c":"g","k":2,"e":-1.75},{"b":14,"c":"g","k":3,"e":-1.7},{"b":14,"c":"g","k":4,"e":-1.65},
{"b":15,"c":"b","k":0,"e":-1.95},{"b":15,"c":"b","k":1,"e":-1.95},{"b":15,"c":"b","k":2,"e":-1.92},{"b":15,"c":"b","k":3,"e":-1.9},{"b":15,"c":"b","k":4,"e":-1.88}
],
"Cu":[
{"b":1,"c":"b","k":0,"e":3.1},{"b":1,"c":"b","k":1,"e":3.25},{"b":1,"c":"b","k":2,"e":3.6},{"b":1,"c":"b","k":3,"e":4},{"b":1,"c":"b","k":4,"e":4.5},
{"b":2,"c":"b","k":0,"e":4.6},{"b":2,"c":"b","k":1,"e":3.6},{"b":2,"c":"b","k":2,"e":2.3},{"b":2,"c":"b","k":3,"e":1},{"b":2,"c":"b","k":4,"e":0},
{"b":3,"c":"b","k":0,"e":-0.3},{"b":3,"c":"b","k":1,"e":-0.3},{"b":3,"c":"b","k":2,"e":-0.25},{"b":3,"c":"b","k":3,"e":-0.15},{"b":3,"c":"b","k":4,"e":0},
{"b":4,"c":"b","k":0,"e":-0.5},{"b":4,"c":"b","k":1,"e":-0.5},{"b":4,"c":"b","k":2,"e":-0.45},{"b":4,"c":"b","k":3,"e":-0.4},{"b":4,"c":"b","k":4,"e":-0.35},
{"b":5,"c":"b","k":0,"e":-0.75},{"b":5,"c":"b","k":1,"e":-0.78},{"b":5,"c":"b","k":2,"e":-0.8},{"b":5,"c":"b","k":3,"e":-0.85},{"b":5,"c":"b","k":4,"e":-0.9},
{"b":6,"c":"b","k":0,"e":-0.9},{"b":6,"c":"b","k":1,"e":-0.9},{"b":6,"c":"b","k":2,"e":-0.85},{"b":6,"c":"b","k":3,"e":-0.6},{"b":6,"c":"b","k":4,"e":-0.4},
{"b":7,"c":"b","k":0,"e":-1.1},{"b":7,"c":"b","k":1,"e":-1.1},{"b":7,"c":"b","k":2,"e":-1.1},{"b":7,"c":"b","k":3,"e":-1.2},{"b":7,"c":"b","k":4,"e":-1.35},
{"b":8,"c":"b","k":0,"e":-1.65},{"b":8,"c":"b","k":1,"e":-1.6},{"b":8,"c":"b","k":2,"e":-1.5},{"b":8,"c":"b","k":3,"e":-1.3},{"b":8,"c":"b","k":4,"e":-1.05},
{"b":9,"c":"b","k":0,"e":-2.9},{"b":9,"c":"b","k":1,"e":-2.7},{"b":9,"c":"b","k":2,"e":-2.35},{"b":9,"c":"b","k":3,"e":-1.85},{"b":9,"c":"b","k":4,"e":-1.25}
],
"CrL":[
{"b":1,"c":"t","k":0,"e":2.05},{"b":1,"c":"t","k":1,"e":2.05},{"b":1,"c":"t","k":2,"e":2.04},{"b":1,"c":"t","k":3,"e":2.03},{"b":1,"c":"t","k":4,"e":2.02},
{"b":2,"c":"t","k":0,"e":1.95},{"b":2,"c":"t","k":1,"e":1.95},{"b":2,"c":"t","k":2,"e":1.94},{"b":2,"c":"t","k":2.5,"e":1.75},{"b":2,"c":"t","k":3,"e":1.32},{"b":2,"c":"t","k":3.5,"e":0.92},{"b":2,"c":"t","k":4,"e":0.47},
{"b":3,"c":"t","k":0,"e":-0.21},{"b":3,"c":"t","k":1,"e":-0.21},{"b":3,"c":"t","k":2,"e":-0.21},{"b":3,"c":"t","k":3,"e":-0.2},{"b":3,"c":"t","k":4,"e":-0.2},
{"b":4,"c":"t","k":0,"e":-0.45},{"b":4,"c":"t","k":1,"e":-0.45},{"b":4,"c":"t","k":2,"e":-0.43},{"b":4,"c":"t","k":3,"e":-0.4},{"b":4,"c":"t","k":4,"e":-0.35},
{"b":5,"c":"t","k":0,"e":-0.58},{"b":5,"c":"t","k":1,"e":-0.57},{"b":5,"c":"t","k":2,"e":-0.55},{"b":5,"c":"t","k":3,"e":-0.5},{"b":5,"c":"t","k":4,"e":-0.42},
{"b":6,"c":"t","k":0,"e":-0.72},{"b":6,"c":"t","k":1,"e":-0.71},{"b":6,"c":"t","k":2,"e":-0.7},{"b":6,"c":"t","k":3,"e":-0.68},{"b":6,"c":"t","k":4,"e":-0.65},
{"b":7,"c":"t","k":0,"e":-4},{"b":7,"c":"t","k":1,"e":-2.9},{"b":7,"c":"t","k":2,"e":-1.85},{"b":7,"c":"t","k":3,"e":-1.25},{"b":7,"c":"t","k":4,"e":-0.6}
],
"CrD":[
{"b":1,"c":"t","k":0,"e":2.05},{"b":1,"c":"t","k":1,"e":1.85},{"b":1,"c":"t","k":2,"e":1.75},{"b":1,"c":"t","k":3,"e":1.7},{"b":1,"c":"t","k":4,"e":1.66},
{"b":2,"c":"t","k":0,"e":1.68},{"b":2,"c":"t","k":1,"e":1.66},{"b":2,"c":"t","k":2,"e":1.63},{"b":2,"c":"t","k":3,"e":1.6},{"b":2,"c":"t","k":4,"e":1.58},
{"b":3,"c":"t","k":0,"e":1.55},{"b":3,"c":"t","k":1,"e":1.54},{"b":3,"c":"t","k":2,"e":1.52},{"b":3,"c":"t","k":3,"e":1.5},{"b":3,"c":"t","k":4,"e":1.48},
{"b":4,"c":"t","k":0,"e":3.4},{"b":4,"c":"t","k":1,"e":2.9},{"b":4,"c":"t","k":2,"e":2.35},{"b":4,"c":"t","k":3,"e":1.85},{"b":4,"c":"t","k":4,"e":1.5},
{"b":5,"c":"t","k":0,"e":1.1},{"b":5,"c":"t","k":1,"e":1.1},{"b":5,"c":"t","k":2,"e":1.1},{"b":5,"c":"t","k":3,"e":1.08},{"b":5,"c":"t","k":3.5,"e":0.95},{"b":5,"c":"t","k":4,"e":0.71},
{"b":6,"c":"t","k":0,"e":1.18},{"b":6,"c":"t","k":1,"e":1.18},{"b":6,"c":"t","k":2,"e":1.19},{"b":6,"c":"t","k":3,"e":1.22},{"b":6,"c":"t","k":4,"e":1.28},
{"b":7,"c":"t","k":0,"e":-1.78},{"b":7,"c":"t","k":1,"e":-1.78},{"b":7,"c":"t","k":1.8,"e":-1.76},{"b":7,"c":"t","k":2.5,"e":-1.5},{"b":7,"c":"t","k":3,"e":-1.2},{"b":7,"c":"t","k":3.5,"e":-0.85},{"b":7,"c":"t","k":4,"e":-0.6},
{"b":8,"c":"t","k":0,"e":-1.85},{"b":8,"c":"t","k":1,"e":-1.85},{"b":8,"c":"t","k":2,"e":-1.84},{"b":8,"c":"t","k":3,"e":-1.83},{"b":8,"c":"t","k":4,"e":-1.82},
{"b":9,"c":"t","k":0,"e":-1.95},{"b":9,"c":"t","k":1,"e":-1.95},{"b":9,"c":"t","k":2,"e":-1.94},{"b":9,"c":"t","k":3,"e":-1.93},{"b":9,"c":"t","k":4,"e":-1.92},
{"b":10,"c":"t","k":0,"e":-3.2},{"b":10,"c":"t","k":1,"e":-2.6},{"b":10,"c":"t","k":2,"e":-2.1},{"b":10,"c":"t","k":3,"e":-1.85},{"b":10,"c":"t","k":4,"e":-1.75}
],
"Zn":[
{"b":1,"c":"b","k":0,"e":3.35},{"b":1,"c":"b","k":1,"e":3.45},{"b":1,"c":"b","k":2,"e":3.6},{"b":1,"c":"b","k":3,"e":3.75},{"b":1,"c":"b","k":4,"e":3.9},
{"b":2,"c":"b","k":0,"e":3.95},{"b":2,"c":"b","k":1,"e":3.95},{"b":2,"c":"b","k":2,"e":3.9},{"b":2,"c":"b","k":3,"e":3.85},{"b":2,"c":"b","k":4,"e":3.8},
{"b":3,"c":"b","k":0,"e":2.3},{"b":3,"c":"b","k":1,"e":2.5},{"b":3,"c":"b","k":2,"e":2.8},{"b":3,"c":"b","k":3,"e":3.2},{"b":3,"c":"b","k":4,"e":3.55},
{"b":4,"c":"b","k":0,"e":0.82},{"b":4,"c":"b","k":1,"e":2.15},{"b":4,"c":"b","k":2,"e":3.7},{"b":4,"c":"b","k":3,"e":5.2},{"b":4,"c":"b","k":4,"e":6.6},
{"b":5,"c":"b","k":0,"e":5.5},{"b":5,"c":"b","k":1,"e":4.6},{"b":5,"c":"b","k":2,"e":3.6},{"b":5,"c":"b","k":3,"e":2.6},{"b":5,"c":"b","k":4,"e":1.67},
{"b":6,"c":"b","k":0,"e":0},{"b":6,"c":"b","k":1,"e":0.2},{"b":6,"c":"b","k":2,"e":0.55},{"b":6,"c":"b","k":3,"e":1.05},{"b":6,"c":"b","k":4,"e":1.67},
{"b":7,"c":"b","k":0,"e":0},{"b":7,"c":"b","k":1,"e":-0.9},{"b":7,"c":"b","k":2,"e":-1.9},{"b":7,"c":"b","k":3,"e":-3.05},{"b":7,"c":"b","k":4,"e":-4.2}
],
"FeL":[
{"b":1,"c":"g","k":0,"e":1.7},{"b":1,"c":"g","k":1,"e":1.5},{"b":1,"c":"g","k":2,"e":1.2},{"b":1,"c":"g","k":3,"e":0.9},{"b":1,"c":"g","k":4,"e":0.55},
{"b":2,"c":"g","k":0,"e":1.2},{"b":2,"c":"g","k":1,"e":1.1},{"b":2,"c":"g","k":2,"e":0.95},{"b":2,"c":"g","k":3,"e":0.8},{"b":2,"c":"g","k":4,"e":0.65},
{"b":3,"c":"g","k":0,"e":0.85},{"b":3,"c":"g","k":1,"e":0.82},{"b":3,"c":"g","k":2,"e":0.8},{"b":3,"c":"g","k":3,"e":0.77},{"b":3,"c":"g","k":4,"e":0.73},
{"b":4,"c":"g","k":0,"e":1},{"b":4,"c":"g","k":1,"e":0.95},{"b":4,"c":"g","k":2,"e":0.9},{"b":4,"c":"g","k":3,"e":0.85},{"b":4,"c":"g","k":4,"e":0.8},
{"b":5,"c":"g","k":0,"e":0.27},{"b":5,"c":"g","k":1,"e":0.28},{"b":5,"c":"g","k":2,"e":0.3},{"b":5,"c":"g","k":3,"e":0.32},{"b":5,"c":"g","k":4,"e":0.35},
{"b":6,"c":"g","k":0,"e":-0.18},{"b":6,"c":"g","k":1,"e":-0.1},{"b":6,"c":"g","k":2,"e":0.05},{"b":6,"c":"g","k":3,"e":0.18},{"b":6,"c":"g","k":4,"e":0.27},
{"b":7,"c":"g","k":0,"e":-0.63},{"b":7,"c":"g","k":1,"e":-0.55},{"b":7,"c":"g","k":2,"e":-0.4},{"b":7,"c":"g","k":3,"e":-0.2},{"b":7,"c":"g","k":4,"e":0},
{"b":8,"c":"g","k":0,"e":-1.09},{"b":8,"c":"g","k":1,"e":-1},{"b":8,"c":"g","k":2,"e":-0.8},{"b":8,"c":"g","k":3,"e":-0.5},{"b":8,"c":"g","k":4,"e":-0.2},
{"b":9,"c":"g","k":0,"e":-3},{"b":9,"c":"g","k":1,"e":-2.6},{"b":9,"c":"g","k":2,"e":-2},{"b":9,"c":"g","k":3,"e":-1.35},{"b":9,"c":"g","k":4,"e":-0.8},
{"b":10,"c":"g","k":0,"e":-3.5},{"b":10,"c":"g","k":1,"e":-3},{"b":10,"c":"g","k":2,"e":-2.4},{"b":10,"c":"g","k":3,"e":-1.9},{"b":10,"c":"g","k":4,"e":-1.4},
{"b":11,"c":"g","k":0,"e":3.5},{"b":11,"c":"g","k":1,"e":2.3},{"b":11,"c":"g","k":2,"e":1.3},{"b":11,"c":"g","k":3,"e":0.6},{"b":11,"c":"g","k":4,"e":0.3},
{"b":12,"c":"g","k":0,"e":2.2},{"b":12,"c":"g","k":1,"e":2},{"b":12,"c":"g","k":2,"e":1.75},{"b":12,"c":"g","k":3,"e":1.5},{"b":12,"c":"g","k":4,"e":1.2},
{"b":13,"c":"b","k":0,"e":3.6},{"b":13,"c":"b","k":1,"e":2.6},{"b":13,"c":"b","k":2,"e":1.2},{"b":13,"c":"b","k":3,"e":-0.2},{"b":13,"c":"b","k":4,"e":-1.47},
{"b":14,"c":"b","k":0,"e":-1.6},{"b":14,"c":"b","k":1,"e":-1.8},{"b":14,"c":"b","k":2,"e":-2},{"b":14,"c":"b","k":3,"e":-2.2},{"b":14,"c":"b","k":4,"e":-2.4},
{"b":15,"c":"b","k":0,"e":-1.25},{"b":15,"c":"b","k":1,"e":-1.4},{"b":15,"c":"b","k":2,"e":-1.65},{"b":15,"c":"b","k":3,"e":-1.95},{"b":15,"c":"b","k":4,"e":-2.2},
{"b":16,"c":"b","k":0,"e":1.55},{"b":16,"c":"b","k":1,"e":1.7},{"b":16,"c":"b","k":2,"e":2},{"b":16,"c":"b","k":3,"e":2.4},{"b":16,"c":"b","k":4,"e":2.8}
],
"FeD":[
{"b":1,"c":"b","k":0,"e":1.3},{"b":1,"c":"b","k":1,"e":1.6},{"b":1,"c":"b","k":2,"e":2.1},{"b":1,"c":"b","k":3,"e":2.6},{"b":1,"c":"b","k":4,"e":3},
{"b":2,"c":"b","k":0,"e":3.4},{"b":2,"c":"b","k":1,"e":2.3},{"b":2,"c":"b","k":2,"e":0.9},{"b":2,"c":"b","k":3,"e":-0.3},{"b":2,"c":"b","k":4,"e":-1.5},
{"b":3,"c":"b","k":0,"e":-1.25},{"b":3,"c":"b","k":1,"e":-1.45},{"b":3,"c":"b","k":2,"e":-1.65},{"b":3,"c":"b","k":3,"e":-1.8},{"b":3,"c":"b","k":4,"e":-1.75},
{"b":4,"c":"b","k":0,"e":-1.22},{"b":4,"c":"b","k":1,"e":-1.23},{"b":4,"c":"b","k":2,"e":-1.3},{"b":4,"c":"b","k":3,"e":-1.5},{"b":4,"c":"b","k":4,"e":-1.8},
{"b":5,"c":"g","k":0,"e":1.64},{"b":5,"c":"g","k":1,"e":1.45},{"b":5,"c":"g","k":2,"e":1.2},{"b":5,"c":"g","k":3,"e":1},{"b":5,"c":"g","k":4,"e":0.88},
{"b":6,"c":"g","k":0,"e":1.25},{"b":6,"c":"g","k":1,"e":1.15},{"b":6,"c":"g","k":2,"e":1},{"b":6,"c":"g","k":3,"e":0.85},{"b":6,"c":"g","k":4,"e":0.75},
{"b":7,"c":"g","k":0,"e":1.1},{"b":7,"c":"g","k":1,"e":1.05},{"b":7,"c":"g","k":2,"e":0.98},{"b":7,"c":"g","k":3,"e":0.9},{"b":7,"c":"g","k":4,"e":0.85},
{"b":8,"c":"g","k":0,"e":0.73},{"b":8,"c":"g","k":1,"e":0.68},{"b":8,"c":"g","k":2,"e":0.6},{"b":8,"c":"g","k":3,"e":0.52},{"b":8,"c":"g","k":4,"e":0.42},
{"b":9,"c":"g","k":0,"e":0.27},{"b":9,"c":"g","k":1,"e":0.27},{"b":9,"c":"g","k":2,"e":0.28},{"b":9,"c":"g","k":3,"e":0.28},{"b":9,"c":"g","k":4,"e":0.27},
{"b":10,"c":"g","k":0,"e":-0.03},{"b":10,"c":"g","k":1,"e":0},{"b":10,"c":"g","k":2,"e":0.05},{"b":10,"c":"g","k":3,"e":0.1},{"b":10,"c":"g","k":4,"e":0.12},
{"b":11,"c":"g","k":0,"e":-0.7},{"b":11,"c":"g","k":1,"e":-0.65},{"b":11,"c":"g","k":2,"e":-0.55},{"b":11,"c":"g","k":3,"e":-0.45},{"b":11,"c":"g","k":4,"e":-0.5},
{"b":12,"c":"g","k":0,"e":-3},{"b":12,"c":"g","k":1,"e":-2.5},{"b":12,"c":"g","k":2,"e":-1.9},{"b":12,"c":"g","k":3,"e":-1.4},{"b":12,"c":"g","k":4,"e":-0.95},
{"b":13,"c":"g","k":0,"e":-3.5},{"b":13,"c":"g","k":1,"e":-3},{"b":13,"c":"g","k":2,"e":-2.4},{"b":13,"c":"g","k":3,"e":-1.8},{"b":13,"c":"g","k":4,"e":-1.4},
{"b":14,"c":"g","k":0,"e":3},{"b":14,"c":"g","k":1,"e":2.3},{"b":14,"c":"g","k":2,"e":1.6},{"b":14,"c":"g","k":3,"e":1.1},{"b":14,"c":"g","k":4,"e":0.9}
],
"gapVD":[
{"k":0,"lo":-0.97,"hi":1.1},{"k":1,"lo":-0.97,"hi":1.05},{"k":2,"lo":-0.96,"hi":0.96},{"k":2.5,"lo":-0.85,"hi":0.9},{"k":3,"lo":-0.6,"hi":0.85},{"k":3.5,"lo":-0.3,"hi":0.8},{"k":4,"lo":-0.12,"hi":0.75}
],
"gapCrL":[
{"k":0,"lo":-0.21,"hi":1.95},{"k":1,"lo":-0.21,"hi":1.95},{"k":2,"lo":-0.21,"hi":1.94},{"k":2.5,"lo":-0.21,"hi":1.75},{"k":3,"lo":-0.2,"hi":1.32},{"k":3.5,"lo":-0.2,"hi":0.92},{"k":4,"lo":-0.2,"hi":0.47}
],
"gapCrD":[
{"k":0,"lo":-1.78,"hi":1.1},{"k":1,"lo":-1.78,"hi":1.1},{"k":1.8,"lo":-1.76,"hi":1.1},{"k":2.5,"lo":-1.5,"hi":1.09},{"k":3,"lo":-1.2,"hi":1.08},{"k":3.5,"lo":-0.85,"hi":0.95},{"k":4,"lo":-0.6,"hi":0.71}
]
},
"concat":[
{"width":88,"height":88,"title":{"text":"L","fontSize":20,"fontWeight":"bold","font":"Liberation Serif","color":"#1a1a1a","offset":-4},"layer":[
{"data":{"name":"Mn"},"mark":{"type":"line","clip":true,"interpolate":"monotone","strokeWidth":1.2},"encoding":{"x":{"field":"k","type":"quantitative","scale":{"domain":[0,4],"nice":false},"axis":null},"y":{"field":"e","type":"quantitative","scale":{"domain":[-4,4],"nice":false,"zero":false},"axis":{"values":[-4,0,4],"title":null,"labelExpr":"''+datum.value"}},"detail":{"field":"b"},"color":{"field":"c","type":"nominal","scale":{"domain":["b","g","t"],"range":["#2d3c9c","#34b570","#1f7b6d"]},"legend":null}}},
{"data":{"values":[{}]},"mark":{"type":"rule","color":"#e5412b","strokeDash":[6,2,1,2],"strokeWidth":1.2},"encoding":{"y":{"datum":0,"type":"quantitative","axis":{"values":[-4,0,4],"title":null,"labelExpr":"''+datum.value"}}}},
{"data":{"values":[{}]},"mark":{"type":"point","shape":"M-1.5,-1H1.5V1H-1.5Z","size":361,"filled":true,"fill":"white","stroke":"#a0825a","strokeWidth":1.2,"opacity":1},"encoding":{"x":{"datum":0.94,"type":"quantitative","axis":null},"y":{"datum":-2.86,"type":"quantitative","axis":{"values":[-4,0,4],"title":null,"labelExpr":"''+datum.value"}}}},
{"data":{"values":[{}]},"mark":{"type":"text","text":"Mn","fontSize":17,"font":"Liberation Serif","color":"#222","baseline":"middle","dy":1},"encoding":{"x":{"datum":0.94,"type":"quantitative","axis":null},"y":{"datum":-2.86,"type":"quantitative","axis":{"values":[-4,0,4],"title":null,"labelExpr":"''+datum.value"}}}}
]},
{"width":88,"height":88,"title":{"text":"L","fontSize":20,"fontWeight":"bold","font":"Liberation Serif","color":"#1a1a1a","offset":-4},"layer":[
{"data":{"name":"ScL"},"mark":{"type":"line","clip":true,"interpolate":"monotone","strokeWidth":1.2},"encoding":{"x":{"field":"k","type":"quantitative","scale":{"domain":[0,4],"nice":false},"axis":null},"y":{"field":"e","type":"quantitative","scale":{"domain":[-2,2],"nice":false,"zero":false},"axis":{"values":[-2,0,2],"title":null,"labelExpr":"''+datum.value"}},"detail":{"field":"b"},"color":{"field":"c","type":"nominal","scale":{"domain":["b","g","t"],"range":["#2d3c9c","#34b570","#1f7b6d"]},"legend":null}}},
{"data":{"values":[{}]},"mark":{"type":"rule","color":"#e5412b","strokeDash":[6,2,1,2],"strokeWidth":1.2},"encoding":{"y":{"datum":0,"type":"quantitative","axis":{"values":[-2,0,2],"title":null,"labelExpr":"''+datum.value"}}}},
{"data":{"values":[{}]},"mark":{"type":"point","shape":"M-1.5,-1H1.5V1H-1.5Z","size":361,"filled":true,"fill":"white","stroke":"#a0825a","strokeWidth":1.2,"opacity":1},"encoding":{"x":{"datum":0.94,"type":"quantitative","axis":null},"y":{"datum":-1.3,"type":"quantitative","axis":{"values":[-2,0,2],"title":null,"labelExpr":"''+datum.value"}}}},
{"data":{"values":[{}]},"mark":{"type":"text","text":"Sc","fontSize":17,"font":"Liberation Serif","color":"#222","baseline":"middle","dy":1},"encoding":{"x":{"datum":0.94,"type":"quantitative","axis":null},"y":{"datum":-1.3,"type":"quantitative","axis":{"values":[-2,0,2],"title":null,"labelExpr":"''+datum.value"}}}}
]},
{"width":88,"height":88,"title":{"text":"LD","fontSize":20,"fontWeight":"bold","font":"Liberation Serif","color":"#1a1a1a","offset":-4},"layer":[
{"data":{"name":"ScD"},"mark":{"type":"line","clip":true,"interpolate":"monotone","strokeWidth":1.2},"encoding":{"x":{"field":"k","type":"quantitative","scale":{"domain":[0,4],"nice":false},"axis":null},"y":{"field":"e","type":"quantitative","scale":{"domain":[-2,2],"nice":false,"zero":false},"axis":{"values":[-2,0,2],"title":null,"labelExpr":"''+datum.value"}},"detail":{"field":"b"},"color":{"field":"c","type":"nominal","scale":{"domain":["b","g","t"],"range":["#2d3c9c","#34b570","#1f7b6d"]},"legend":null}}},
{"data":{"values":[{}]},"mark":{"type":"rule","color":"#e5412b","strokeDash":[6,2,1,2],"strokeWidth":1.2},"encoding":{"y":{"datum":0,"type":"quantitative","axis":{"values":[-2,0,2],"title":null,"labelExpr":"''+datum.value"}}}},
{"data":{"values":[{}]},"mark":{"type":"point","shape":"M-1.5,-1H1.5V1H-1.5Z","size":361,"filled":true,"fill":"white","stroke":"#a0825a","strokeWidth":1.2,"opacity":1},"encoding":{"x":{"datum":0.94,"type":"quantitative","axis":null},"y":{"datum":-1.3,"type":"quantitative","axis":{"values":[-2,0,2],"title":null,"labelExpr":"''+datum.value"}}}},
{"data":{"values":[{}]},"mark":{"type":"text","text":"Sc","fontSize":17,"font":"Liberation Serif","color":"#222","baseline":"middle","dy":1},"encoding":{"x":{"datum":0.94,"type":"quantitative","axis":null},"y":{"datum":-1.3,"type":"quantitative","axis":{"values":[-2,0,2],"title":null,"labelExpr":"''+datum.value"}}}}
]},
{"width":88,"height":88,"layer":[
{"data":{"name":"Co"},"mark":{"type":"line","clip":true,"interpolate":"monotone","strokeWidth":1.2},"encoding":{"x":{"field":"k","type":"quantitative","scale":{"domain":[0,4],"nice":false},"axis":null},"y":{"field":"e","type":"quantitative","scale":{"domain":[-2,2],"nice":false,"zero":false},"axis":{"values":[-2,0,2],"title":null,"labelExpr":"''+datum.value"}},"detail":{"field":"b"},"color":{"field":"c","type":"nominal","scale":{"domain":["b","g","t"],"range":["#2d3c9c","#34b570","#1f7b6d"]},"legend":null}}},
{"data":{"values":[{}]},"mark":{"type":"rule","color":"#e5412b","strokeDash":[6,2,1,2],"strokeWidth":1.2},"encoding":{"y":{"datum":0,"type":"quantitative","axis":{"values":[-2,0,2],"title":null,"labelExpr":"''+datum.value"}}}},
{"data":{"values":[{}]},"mark":{"type":"point","shape":"M-1.5,-1H1.5V1H-1.5Z","size":361,"filled":true,"fill":"white","stroke":"#a0825a","strokeWidth":1.2,"opacity":1},"encoding":{"x":{"datum":0.94,"type":"quantitative","axis":null},"y":{"datum":-1.3,"type":"quantitative","axis":{"values":[-2,0,2],"title":null,"labelExpr":"''+datum.value"}}}},
{"data":{"values":[{}]},"mark":{"type":"text","text":"Co","fontSize":17,"font":"Liberation Serif","color":"#222","baseline":"middle","dy":1},"encoding":{"x":{"datum":0.94,"type":"quantitative","axis":null},"y":{"datum":-1.3,"type":"quantitative","axis":{"values":[-2,0,2],"title":null,"labelExpr":"''+datum.value"}}}}
]},
{"width":88,"height":88,"layer":[
{"data":{"name":"TiL"},"mark":{"type":"line","clip":true,"interpolate":"monotone","strokeWidth":1.2},"encoding":{"x":{"field":"k","type":"quantitative","scale":{"domain":[0,4],"nice":false},"axis":null},"y":{"field":"e","type":"quantitative","scale":{"domain":[-2,2],"nice":false,"zero":false},"axis":{"values":[-2,0,2],"title":null,"labelExpr":"''+datum.value"}},"detail":{"field":"b"},"color":{"field":"c","type":"nominal","scale":{"domain":["b","g","t"],"range":["#2d3c9c","#34b570","#1f7b6d"]},"legend":null}}},
{"data":{"values":[{}]},"mark":{"type":"rule","color":"#e5412b","strokeDash":[6,2,1,2],"strokeWidth":1.2},"encoding":{"y":{"datum":0,"type":"quantitative","axis":{"values":[-2,0,2],"title":null,"labelExpr":"''+datum.value"}}}},
{"data":{"values":[{}]},"mark":{"type":"point","shape":"M-1.5,-1H1.5V1H-1.5Z","size":361,"filled":true,"fill":"white","stroke":"#a0825a","strokeWidth":1.2,"opacity":1},"encoding":{"x":{"datum":0.94,"type":"quantitative","axis":null},"y":{"datum":-1.3,"type":"quantitative","axis":{"values":[-2,0,2],"title":null,"labelExpr":"''+datum.value"}}}},
{"data":{"values":[{}]},"mark":{"type":"text","text":"Ti","fontSize":17,"font":"Liberation Serif","color":"#222","baseline":"middle","dy":1},"encoding":{"x":{"datum":0.94,"type":"quantitative","axis":null},"y":{"datum":-1.3,"type":"quantitative","axis":{"values":[-2,0,2],"title":null,"labelExpr":"''+datum.value"}}}}
]},
{"width":88,"height":88,"layer":[
{"data":{"name":"TiD"},"mark":{"type":"line","clip":true,"interpolate":"monotone","strokeWidth":1.2},"encoding":{"x":{"field":"k","type":"quantitative","scale":{"domain":[0,4],"nice":false},"axis":null},"y":{"field":"e","type":"quantitative","scale":{"domain":[-2,2],"nice":false,"zero":false},"axis":{"values":[-2,0,2],"title":null,"labelExpr":"''+datum.value"}},"detail":{"field":"b"},"color":{"field":"c","type":"nominal","scale":{"domain":["b","g","t"],"range":["#2d3c9c","#34b570","#1f7b6d"]},"legend":null}}},
{"data":{"values":[{}]},"mark":{"type":"rule","color":"#e5412b","strokeDash":[6,2,1,2],"strokeWidth":1.2},"encoding":{"y":{"datum":0,"type":"quantitative","axis":{"values":[-2,0,2],"title":null,"labelExpr":"''+datum.value"}}}},
{"data":{"values":[{}]},"mark":{"type":"point","shape":"M-1.5,-1H1.5V1H-1.5Z","size":361,"filled":true,"fill":"white","stroke":"#a0825a","strokeWidth":1.2,"opacity":1},"encoding":{"x":{"datum":0.94,"type":"quantitative","axis":null},"y":{"datum":-1.3,"type":"quantitative","axis":{"values":[-2,0,2],"title":null,"labelExpr":"''+datum.value"}}}},
{"data":{"values":[{}]},"mark":{"type":"text","text":"Ti","fontSize":17,"font":"Liberation Serif","color":"#222","baseline":"middle","dy":1},"encoding":{"x":{"datum":0.94,"type":"quantitative","axis":null},"y":{"datum":-1.3,"type":"quantitative","axis":{"values":[-2,0,2],"title":null,"labelExpr":"''+datum.value"}}}}
]},
{"width":88,"height":88,"layer":[
{"data":{"name":"Ni"},"mark":{"type":"line","clip":true,"interpolate":"monotone","strokeWidth":1.2},"encoding":{"x":{"field":"k","type":"quantitative","scale":{"domain":[0,4],"nice":false},"axis":null},"y":{"field":"e","type":"quantitative","scale":{"domain":[-4,4],"nice":false,"zero":false},"axis":{"values":[-4,0,4],"title":null,"labelExpr":"''+datum.value"}},"detail":{"field":"b"},"color":{"field":"c","type":"nominal","scale":{"domain":["b","g","t"],"range":["#2d3c9c","#34b570","#1f7b6d"]},"legend":null}}},
{"data":{"values":[{}]},"mark":{"type":"rule","color":"#e5412b","strokeDash":[6,2,1,2],"strokeWidth":1.2},"encoding":{"y":{"datum":0,"type":"quantitative","axis":{"values":[-4,0,4],"title":null,"labelExpr":"''+datum.value"}}}},
{"data":{"values":[{}]},"mark":{"type":"point","shape":"M-1.5,-1H1.5V1H-1.5Z","size":361,"filled":true,"fill":"white","stroke":"#a0825a","strokeWidth":1.2,"opacity":1},"encoding":{"x":{"datum":0.94,"type":"quantitative","axis":null},"y":{"datum":-2.6,"type":"quantitative","axis":{"values":[-4,0,4],"title":null,"labelExpr":"''+datum.value"}}}},
{"data":{"values":[{}]},"mark":{"type":"text","text":"Ni","fontSize":17,"font":"Liberation Serif","color":"#222","baseline":"middle","dy":1},"encoding":{"x":{"datum":0.94,"type":"quantitative","axis":null},"y":{"datum":-2.6,"type":"quantitative","axis":{"values":[-4,0,4],"title":null,"labelExpr":"''+datum.value"}}}}
]},
{"width":88,"height":88,"layer":[
{"data":{"name":"VL"},"mark":{"type":"line","clip":true,"interpolate":"monotone","strokeWidth":1.2},"encoding":{"x":{"field":"k","type":"quantitative","scale":{"domain":[0,4],"nice":false},"axis":null},"y":{"field":"e","type":"quantitative","scale":{"domain":[-2,2],"nice":false,"zero":false},"axis":{"values":[-2,0,2],"title":null,"labelExpr":"''+datum.value"}},"detail":{"field":"b"},"color":{"field":"c","type":"nominal","scale":{"domain":["b","g","t"],"range":["#2d3c9c","#34b570","#1f7b6d"]},"legend":null}}},
{"data":{"values":[{}]},"mark":{"type":"rule","color":"#e5412b","strokeDash":[6,2,1,2],"strokeWidth":1.2},"encoding":{"y":{"datum":0,"type":"quantitative","axis":{"values":[-2,0,2],"title":null,"labelExpr":"''+datum.value"}}}},
{"data":{"values":[{}]},"mark":{"type":"point","shape":"M-1.5,-1H1.5V1H-1.5Z","size":361,"filled":true,"fill":"white","stroke":"#a0825a","strokeWidth":1.2,"opacity":1},"encoding":{"x":{"datum":0.94,"type":"quantitative","axis":null},"y":{"datum":-1.3,"type":"quantitative","axis":{"values":[-2,0,2],"title":null,"labelExpr":"''+datum.value"}}}},
{"data":{"values":[{}]},"mark":{"type":"text","text":"V","fontSize":17,"font":"Liberation Serif","color":"#222","baseline":"middle","dy":1},"encoding":{"x":{"datum":0.94,"type":"quantitative","axis":null},"y":{"datum":-1.3,"type":"quantitative","axis":{"values":[-2,0,2],"title":null,"labelExpr":"''+datum.value"}}}}
]},
{"width":88,"height":88,"layer":[
{"data":{"name":"gapVD"},"mark":{"type":"area","clip":true,"interpolate":"monotone","color":"#f9bf30","opacity":1},"encoding":{"x":{"field":"k","type":"quantitative","axis":null},"y":{"field":"lo","type":"quantitative","axis":{"values":[-2,0,2],"title":null,"labelExpr":"''+datum.value"}},"y2":{"field":"hi"}}},
{"data":{"name":"VD"},"mark":{"type":"line","clip":true,"interpolate":"monotone","strokeWidth":1.2},"encoding":{"x":{"field":"k","type":"quantitative","scale":{"domain":[0,4],"nice":false},"axis":null},"y":{"field":"e","type":"quantitative","scale":{"domain":[-2,2],"nice":false,"zero":false},"axis":{"values":[-2,0,2],"title":null,"labelExpr":"''+datum.value"}},"detail":{"field":"b"},"color":{"field":"c","type":"nominal","scale":{"domain":["b","g","t"],"range":["#2d3c9c","#34b570","#1f7b6d"]},"legend":null}}},
{"data":{"values":[{}]},"mark":{"type":"rule","color":"#e5412b","strokeDash":[6,2,1,2],"strokeWidth":1.2},"encoding":{"y":{"datum":0,"type":"quantitative","axis":{"values":[-2,0,2],"title":null,"labelExpr":"''+datum.value"}}}},
{"data":{"values":[{}]},"mark":{"type":"point","shape":"M-1.5,-1H1.5V1H-1.5Z","size":361,"filled":true,"fill":"white","stroke":"#a0825a","strokeWidth":1.2,"opacity":1},"encoding":{"x":{"datum":0.94,"type":"quantitative","axis":null},"y":{"datum":-1.3,"type":"quantitative","axis":{"values":[-2,0,2],"title":null,"labelExpr":"''+datum.value"}}}},
{"data":{"values":[{}]},"mark":{"type":"text","text":"V","fontSize":17,"font":"Liberation Serif","color":"#222","baseline":"middle","dy":1},"encoding":{"x":{"datum":0.94,"type":"quantitative","axis":null},"y":{"datum":-1.3,"type":"quantitative","axis":{"values":[-2,0,2],"title":null,"labelExpr":"''+datum.value"}}}}
]},
{"width":88,"height":88,"layer":[
{"data":{"name":"Cu"},"mark":{"type":"line","clip":true,"interpolate":"monotone","strokeWidth":1.2},"encoding":{"x":{"field":"k","type":"quantitative","scale":{"domain":[0,4],"nice":false},"axis":null},"y":{"field":"e","type":"quantitative","scale":{"domain":[-4,4],"nice":false,"zero":false},"axis":{"values":[-4,0,4],"title":null,"labelExpr":"''+datum.value"}},"detail":{"field":"b"},"color":{"field":"c","type":"nominal","scale":{"domain":["b","g","t"],"range":["#2d3c9c","#34b570","#1f7b6d"]},"legend":null}}},
{"data":{"values":[{}]},"mark":{"type":"rule","color":"#e5412b","strokeDash":[6,2,1,2],"strokeWidth":1.2},"encoding":{"y":{"datum":0,"type":"quantitative","axis":{"values":[-4,0,4],"title":null,"labelExpr":"''+datum.value"}}}},
{"data":{"values":[{}]},"mark":{"type":"point","shape":"M-1.5,-1H1.5V1H-1.5Z","size":361,"filled":true,"fill":"white","stroke":"#a0825a","strokeWidth":1.2,"opacity":1},"encoding":{"x":{"datum":0.94,"type":"quantitative","axis":null},"y":{"datum":-2.6,"type":"quantitative","axis":{"values":[-4,0,4],"title":null,"labelExpr":"''+datum.value"}}}},
{"data":{"values":[{}]},"mark":{"type":"text","text":"Cu","fontSize":17,"font":"Liberation Serif","color":"#222","baseline":"middle","dy":1},"encoding":{"x":{"datum":0.94,"type":"quantitative","axis":null},"y":{"datum":-2.6,"type":"quantitative","axis":{"values":[-4,0,4],"title":null,"labelExpr":"''+datum.value"}}}}
]},
{"width":88,"height":88,"layer":[
{"data":{"name":"gapCrL"},"mark":{"type":"area","clip":true,"interpolate":"monotone","color":"#f9bf30","opacity":1},"encoding":{"x":{"field":"k","type":"quantitative","axis":null},"y":{"field":"lo","type":"quantitative","axis":{"values":[-2,0,2],"title":null,"labelExpr":"''+datum.value"}},"y2":{"field":"hi"}}},
{"data":{"name":"CrL"},"mark":{"type":"line","clip":true,"interpolate":"monotone","strokeWidth":1.4},"encoding":{"x":{"field":"k","type":"quantitative","scale":{"domain":[0,4],"nice":false},"axis":null},"y":{"field":"e","type":"quantitative","scale":{"domain":[-2,2],"nice":false,"zero":false},"axis":{"values":[-2,0,2],"title":null,"labelExpr":"''+datum.value"}},"detail":{"field":"b"},"color":{"field":"c","type":"nominal","scale":{"domain":["b","g","t"],"range":["#2d3c9c","#34b570","#1f7b6d"]},"legend":null}}},
{"data":{"values":[{}]},"mark":{"type":"rule","color":"#e5412b","strokeDash":[6,2,1,2],"strokeWidth":1.2},"encoding":{"y":{"datum":0,"type":"quantitative","axis":{"values":[-2,0,2],"title":null,"labelExpr":"''+datum.value"}}}},
{"data":{"values":[{}]},"mark":{"type":"point","shape":"M-1.5,-1H1.5V1H-1.5Z","size":361,"filled":true,"fill":"white","stroke":"#a0825a","strokeWidth":1.2,"opacity":1},"encoding":{"x":{"datum":0.94,"type":"quantitative","axis":null},"y":{"datum":-1.3,"type":"quantitative","axis":{"values":[-2,0,2],"title":null,"labelExpr":"''+datum.value"}}}},
{"data":{"values":[{}]},"mark":{"type":"text","text":"Cr","fontSize":17,"font":"Liberation Serif","color":"#222","baseline":"middle","dy":1},"encoding":{"x":{"datum":0.94,"type":"quantitative","axis":null},"y":{"datum":-1.3,"type":"quantitative","axis":{"values":[-2,0,2],"title":null,"labelExpr":"''+datum.value"}}}}
]},
{"width":88,"height":88,"layer":[
{"data":{"name":"gapCrD"},"mark":{"type":"area","clip":true,"interpolate":"monotone","color":"#f9bf30","opacity":1},"encoding":{"x":{"field":"k","type":"quantitative","axis":null},"y":{"field":"lo","type":"quantitative","axis":{"values":[-2,0,2],"title":null,"labelExpr":"''+datum.value"}},"y2":{"field":"hi"}}},
{"data":{"name":"CrD"},"mark":{"type":"line","clip":true,"interpolate":"monotone","strokeWidth":1.4},"encoding":{"x":{"field":"k","type":"quantitative","scale":{"domain":[0,4],"nice":false},"axis":null},"y":{"field":"e","type":"quantitative","scale":{"domain":[-2,2],"nice":false,"zero":false},"axis":{"values":[-2,0,2],"title":null,"labelExpr":"''+datum.value"}},"detail":{"field":"b"},"color":{"field":"c","type":"nominal","scale":{"domain":["b","g","t"],"range":["#2d3c9c","#34b570","#1f7b6d"]},"legend":null}}},
{"data":{"values":[{}]},"mark":{"type":"rule","color":"#e5412b","strokeDash":[6,2,1,2],"strokeWidth":1.2},"encoding":{"y":{"datum":0,"type":"quantitative","axis":{"values":[-2,0,2],"title":null,"labelExpr":"''+datum.value"}}}},
{"data":{"values":[{}]},"mark":{"type":"point","shape":"M-1.5,-1H1.5V1H-1.5Z","size":361,"filled":true,"fill":"white","stroke":"#a0825a","strokeWidth":1.2,"opacity":1},"encoding":{"x":{"datum":0.94,"type":"quantitative","axis":null},"y":{"datum":-1.3,"type":"quantitative","axis":{"values":[-2,0,2],"title":null,"labelExpr":"''+datum.value"}}}},
{"data":{"values":[{}]},"mark":{"type":"text","text":"Cr","fontSize":17,"font":"Liberation Serif","color":"#222","baseline":"middle","dy":1},"encoding":{"x":{"datum":0.94,"type":"quantitative","axis":null},"y":{"datum":-1.3,"type":"quantitative","axis":{"values":[-2,0,2],"title":null,"labelExpr":"''+datum.value"}}}}
]},
{"width":88,"height":88,"layer":[
{"data":{"name":"Zn"},"mark":{"type":"line","clip":true,"interpolate":"monotone","strokeWidth":1.2},"encoding":{"x":{"field":"k","type":"quantitative","scale":{"domain":[0,4],"nice":false},"axis":{"values":[0.1,2,3.88],"labelExpr":"datum.value<1?'Γ':datum.value<3?'k':'Z'","title":null,"labelFontSize":16,"labelColor":"#333","labelPadding":2}},"y":{"field":"e","type":"quantitative","scale":{"domain":[-4,4],"nice":false,"zero":false},"axis":{"values":[-4,0,4],"title":null,"labelExpr":"''+datum.value"}},"detail":{"field":"b"},"color":{"field":"c","type":"nominal","scale":{"domain":["b","g","t"],"range":["#2d3c9c","#34b570","#1f7b6d"]},"legend":null}}},
{"data":{"values":[{}]},"mark":{"type":"rule","color":"#e5412b","strokeDash":[6,2,1,2],"strokeWidth":1.2},"encoding":{"y":{"datum":0,"type":"quantitative","axis":{"values":[-4,0,4],"title":null,"labelExpr":"''+datum.value"}}}},
{"data":{"values":[{}]},"mark":{"type":"point","shape":"M-1.5,-1H1.5V1H-1.5Z","size":361,"filled":true,"fill":"white","stroke":"#a0825a","strokeWidth":1.2,"opacity":1},"encoding":{"x":{"datum":0.94,"type":"quantitative","axis":{"values":[0.1,2,3.88],"labelExpr":"datum.value<1?'Γ':datum.value<3?'k':'Z'","title":null,"labelFontSize":16,"labelColor":"#333","labelPadding":2}},"y":{"datum":-2.6,"type":"quantitative","axis":{"values":[-4,0,4],"title":null,"labelExpr":"''+datum.value"}}}},
{"data":{"values":[{}]},"mark":{"type":"text","text":"Zn","fontSize":17,"font":"Liberation Serif","color":"#222","baseline":"middle","dy":1},"encoding":{"x":{"datum":0.94,"type":"quantitative","axis":{"values":[0.1,2,3.88],"labelExpr":"datum.value<1?'Γ':datum.value<3?'k':'Z'","title":null,"labelFontSize":16,"labelColor":"#333","labelPadding":2}},"y":{"datum":-2.6,"type":"quantitative","axis":{"values":[-4,0,4],"title":null,"labelExpr":"''+datum.value"}}}},
{"data":{"values":[{}]},"mark":{"type":"text","text":"z","fontSize":12,"font":"Liberation Serif","color":"#333","align":"left","baseline":"alphabetic","dx":4,"dy":18},"encoding":{"x":{"datum":2,"type":"quantitative","axis":{"values":[0.1,2,3.88],"labelExpr":"datum.value<1?'Γ':datum.value<3?'k':'Z'","title":null,"labelFontSize":16,"labelColor":"#333","labelPadding":2}},"y":{"datum":-4,"type":"quantitative","axis":{"values":[-4,0,4],"title":null,"labelExpr":"''+datum.value"}}}}
]},
{"width":88,"height":88,"layer":[
{"data":{"name":"FeL"},"mark":{"type":"line","clip":true,"interpolate":"monotone","strokeWidth":1.2},"encoding":{"x":{"field":"k","type":"quantitative","scale":{"domain":[0,4],"nice":false},"axis":{"values":[0.1,2,3.88],"labelExpr":"datum.value<1?'Γ':datum.value<3?'k':'Z'","title":null,"labelFontSize":16,"labelColor":"#333","labelPadding":2}},"y":{"field":"e","type":"quantitative","scale":{"domain":[-2,2],"nice":false,"zero":false},"axis":{"values":[-2,0,2],"title":null,"labelExpr":"''+datum.value"}},"detail":{"field":"b"},"color":{"field":"c","type":"nominal","scale":{"domain":["b","g","t"],"range":["#2d3c9c","#34b570","#1f7b6d"]},"legend":null}}},
{"data":{"values":[{}]},"mark":{"type":"rule","color":"#e5412b","strokeDash":[6,2,1,2],"strokeWidth":1.2},"encoding":{"y":{"datum":0,"type":"quantitative","axis":{"values":[-2,0,2],"title":null,"labelExpr":"''+datum.value"}}}},
{"data":{"values":[{}]},"mark":{"type":"point","shape":"M-1.5,-1H1.5V1H-1.5Z","size":361,"filled":true,"fill":"white","stroke":"#a0825a","strokeWidth":1.2,"opacity":1},"encoding":{"x":{"datum":0.94,"type":"quantitative","axis":{"values":[0.1,2,3.88],"labelExpr":"datum.value<1?'Γ':datum.value<3?'k':'Z'","title":null,"labelFontSize":16,"labelColor":"#333","labelPadding":2}},"y":{"datum":-1.3,"type":"quantitative","axis":{"values":[-2,0,2],"title":null,"labelExpr":"''+datum.value"}}}},
{"data":{"values":[{}]},"mark":{"type":"text","text":"Fe","fontSize":17,"font":"Liberation Serif","color":"#222","baseline":"middle","dy":1},"encoding":{"x":{"datum":0.94,"type":"quantitative","axis":{"values":[0.1,2,3.88],"labelExpr":"datum.value<1?'Γ':datum.value<3?'k':'Z'","title":null,"labelFontSize":16,"labelColor":"#333","labelPadding":2}},"y":{"datum":-1.3,"type":"quantitative","axis":{"values":[-2,0,2],"title":null,"labelExpr":"''+datum.value"}}}},
{"data":{"values":[{}]},"mark":{"type":"text","text":"z","fontSize":12,"font":"Liberation Serif","color":"#333","align":"left","baseline":"alphabetic","dx":4,"dy":18},"encoding":{"x":{"datum":2,"type":"quantitative","axis":{"values":[0.1,2,3.88],"labelExpr":"datum.value<1?'Γ':datum.value<3?'k':'Z'","title":null,"labelFontSize":16,"labelColor":"#333","labelPadding":2}},"y":{"datum":-2,"type":"quantitative","axis":{"values":[-2,0,2],"title":null,"labelExpr":"''+datum.value"}}}}
]},
{"width":88,"height":88,"layer":[
{"data":{"name":"FeD"},"mark":{"type":"line","clip":true,"interpolate":"monotone","strokeWidth":1.2},"encoding":{"x":{"field":"k","type":"quantitative","scale":{"domain":[0,4],"nice":false},"axis":{"values":[0.1,2,3.88],"labelExpr":"datum.value<1?'Γ':datum.value<3?'k':'Z'","title":null,"labelFontSize":16,"labelColor":"#333","labelPadding":2}},"y":{"field":"e","type":"quantitative","scale":{"domain":[-2,2],"nice":false,"zero":false},"axis":{"values":[-2,0,2],"title":null,"labelExpr":"''+datum.value"}},"detail":{"field":"b"},"color":{"field":"c","type":"nominal","scale":{"domain":["b","g","t"],"range":["#2d3c9c","#34b570","#1f7b6d"]},"legend":null}}},
{"data":{"values":[{}]},"mark":{"type":"rule","color":"#e5412b","strokeDash":[6,2,1,2],"strokeWidth":1.2},"encoding":{"y":{"datum":0,"type":"quantitative","axis":{"values":[-2,0,2],"title":null,"labelExpr":"''+datum.value"}}}},
{"data":{"values":[{}]},"mark":{"type":"point","shape":"M-1.5,-1H1.5V1H-1.5Z","size":361,"filled":true,"fill":"white","stroke":"#a0825a","strokeWidth":1.2,"opacity":1},"encoding":{"x":{"datum":0.94,"type":"quantitative","axis":{"values":[0.1,2,3.88],"labelExpr":"datum.value<1?'Γ':datum.value<3?'k':'Z'","title":null,"labelFontSize":16,"labelColor":"#333","labelPadding":2}},"y":{"datum":-1.3,"type":"quantitative","axis":{"values":[-2,0,2],"title":null,"labelExpr":"''+datum.value"}}}},
{"data":{"values":[{}]},"mark":{"type":"text","text":"Fe","fontSize":17,"font":"Liberation Serif","color":"#222","baseline":"middle","dy":1},"encoding":{"x":{"datum":0.94,"type":"quantitative","axis":{"values":[0.1,2,3.88],"labelExpr":"datum.value<1?'Γ':datum.value<3?'k':'Z'","title":null,"labelFontSize":16,"labelColor":"#333","labelPadding":2}},"y":{"datum":-1.3,"type":"quantitative","axis":{"values":[-2,0,2],"title":null,"labelExpr":"''+datum.value"}}}},
{"data":{"values":[{}]},"mark":{"type":"text","text":"z","fontSize":12,"font":"Liberation Serif","color":"#333","align":"left","baseline":"alphabetic","dx":4,"dy":18},"encoding":{"x":{"datum":2,"type":"quantitative","axis":{"values":[0.1,2,3.88],"labelExpr":"datum.value<1?'Γ':datum.value<3?'k':'Z'","title":null,"labelFontSize":16,"labelColor":"#333","labelPadding":2}},"y":{"datum":-2,"type":"quantitative","axis":{"values":[-2,0,2],"title":null,"labelExpr":"''+datum.value"}}}}
]}
]
}
